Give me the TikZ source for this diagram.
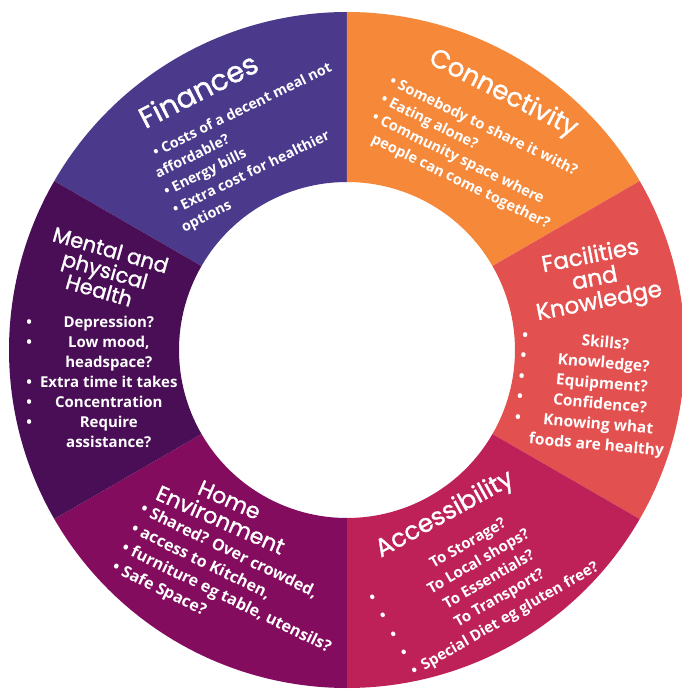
\documentclass[tikz,border=0pt]{standalone}
\usepackage{fontspec}
\setmainfont{Open Sans}
\newfontfamily\headfont{Poppins}[FakeBold=1.2]
\usepackage{xcolor}
\usetikzlibrary{positioning}

\definecolor{fincol}{HTML}{4B3A8C}
\definecolor{concol}{HTML}{F6883A}
\definecolor{faccol}{HTML}{E2504F}
\definecolor{acccol}{HTML}{BE2157}
\definecolor{homecol}{HTML}{830C5E}
\definecolor{mentcol}{HTML}{4A0E56}

\begin{document}
\begin{tikzpicture}[x=1pt, y=1pt,
  every node/.style={text=white, inner sep=0pt},
  heading/.style={font=\headfont\fontsize{#1}{#1}\selectfont, align=center},
  items/.style args={#1/#2}{font=\bfseries\fontsize{#1}{#2}\selectfont, align=left}]
  \useasboundingbox (-347,-339) rectangle (335,350);

  % Ring segments
  \fill[fincol]  (90:168)  -- (90:338)  arc (90:150:338)  -- (150:168) arc (150:90:168)  -- cycle;
  \fill[concol]  (30:168)  -- (30:338)  arc (30:90:338)   -- (90:168)  arc (90:30:168)   -- cycle;
  \fill[faccol]  (-30:168) -- (-30:338) arc (-30:30:338)  -- (30:168)  arc (30:-30:168)  -- cycle;
  \fill[acccol]  (-90:168) -- (-90:338) arc (-90:-30:338) -- (-30:168) arc (-30:-90:168) -- cycle;
  \fill[homecol] (210:168) -- (210:338) arc (210:270:338) -- (270:168) arc (270:210:168) -- cycle;
  \fill[mentcol] (150:168) -- (150:338) arc (150:210:338) -- (210:168) arc (210:150:168) -- cycle;

  % Headings
  \node[heading=29, rotate=27]  (finances) at (-149,260) {Finances};
  \node[heading=26, rotate=-27] (connect)  at (156,256)  {Connectivity};
  \node[heading=23, rotate=11]  (facil)    at (248,70)   {Facilities\\and\\Knowledge};
  \node[heading=25, rotate=29]  (access)   at (98,-165)  {Accessibility};
  \node[heading=22, rotate=-24] (home)     at (-122,-160) {Home\\Environment};
  \node[heading=21, rotate=-16] (mental)   at (-242,80)  {Mental and\\physical\\Health};

  % Lists
  \node[items=14.2/20, rotate=26, anchor=west] (finlist) at (-182,157)
    {\ \ \textbullet\ Costs of a decent meal not\\affordable?\\\textbullet\ Energy bills\\\textbullet\ Extra cost for healthier\\options};
  \node[items=14.6/20, rotate=-26, anchor=west] (conlist) at (30,242)
    {\begin{tabular}{@{}l@{\ }l@{}}
      \textbullet & Somebody to share it with?\\
      \textbullet & Eating alone?\\
      \textbullet & Community space where\\
      & people can come together?
    \end{tabular}};
  \node[items=15.5/20.5, rotate=-5] (faclist) at (246,-44)
    {\begin{tabular}{@{}c@{\hspace{10pt}}c@{}}
      \textbullet & Skills?\\
      \textbullet & Knowledge?\\
      \textbullet & Equipment?\\
      \textbullet & Confidence?\\
      \textbullet & Knowing what\\
      & foods are healthy
    \end{tabular}};
  \node[items=15/21, rotate=30] (acclist) at (137,-233)
    {\begin{tabular}{@{}c@{\hspace{6pt}}c@{}}
      \textbullet & To Storage?\\
      \textbullet & To Local shops?\\
      \textbullet & To Essentials?\\
      \textbullet & To Transport?\\
      \textbullet & Special Diet eg gluten free?
    \end{tabular}};
  \node[items=16/21.5, rotate=-26, anchor=west] (homelist) at (-220,-188)
    {\textbullet\ Shared? Over crowded,\\\textbullet\ access to Kitchen,\\\textbullet\ furniture eg table, utensils?\\\textbullet\ Safe Space?};
  \node[items=15/20, xshift=-1pt] (mentlist) at (-244,-33)
    {\begin{tabular}{@{}c@{\hspace{8pt}}c@{}}
      \textbullet & Depression?\\
      \textbullet & Low mood,\\
      & headspace?\\
      \textbullet & Extra time it takes\\
      \textbullet & Concentration\\
      \textbullet & Require\\
      & assistance?
    \end{tabular}};
\end{tikzpicture}
\end{document}
